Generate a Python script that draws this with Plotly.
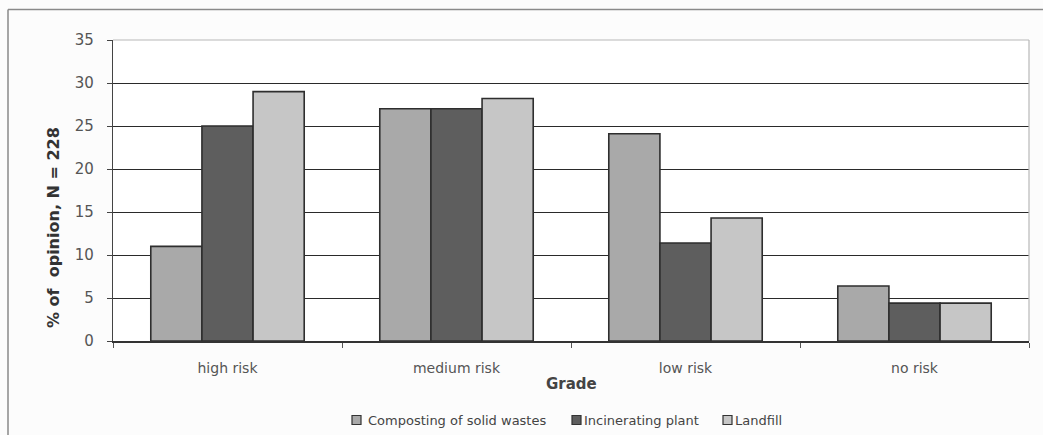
import plotly.graph_objects as go

# Survey data: perceived risk grade of three waste-treatment facilities
grades = ["high risk", "medium risk", "low risk", "no risk"]
composting = [11.0, 27.0, 24.1, 6.4]
incinerating = [25.0, 27.0, 11.4, 4.4]
landfill = [29.0, 28.2, 14.3, 4.4]

series_names = ["Composting of solid wastes", "Incinerating plant", "Landfill"]
y_ticks = [0, 5, 10, 15, 20, 25, 30, 35]

fills = ["#a9a9a9", "#5e5e5e", "#c6c6c6"]
edge = "#2e2e2e"
font_family = "DejaVu Sans, Liberation Sans, Arial, sans-serif"

W, H = 1043, 435
M_L, M_R, M_T, M_B = 113, 14, 40, 94
plot_w = W - M_L - M_R
plot_h = H - M_T - M_B


def px_to_paper_x(px):
    return (px - M_L) / plot_w


def px_to_paper_y(py):
    return (H - M_B - py) / plot_h


fig = go.Figure()
for name, vals, col in zip(series_names, [composting, incinerating, landfill], fills):
    fig.add_trace(go.Bar(
        x=grades, y=vals, name=name,
        marker=dict(color=col, line=dict(color=edge, width=1.6)),
    ))

# Legend drawn below the axis title: small bordered squares plus labels
legend_marker_x = [352, 572, 723]
legend_text_x = [366, 582, 733]
shapes = []
annotations = []
for name, col, mx, tx in zip(series_names, fills, legend_marker_x, legend_text_x):
    shapes.append(dict(
        type="rect", xref="paper", yref="paper",
        x0=px_to_paper_x(mx), x1=px_to_paper_x(mx + 9),
        y0=px_to_paper_y(424.5), y1=px_to_paper_y(415.5),
        fillcolor=col, line=dict(color="#333333", width=1.2),
    ))
    annotations.append(dict(
        text=name, xref="paper", yref="paper",
        x=px_to_paper_x(tx), y=px_to_paper_y(420),
        xanchor="left", yanchor="middle", showarrow=False,
        font=dict(family=font_family, size=13, color="#444444"),
    ))

# axis titles
annotations.append(dict(
    text="<b>Grade</b>", xref="paper", yref="paper",
    x=px_to_paper_x(571), y=px_to_paper_y(384),
    xanchor="center", yanchor="middle", showarrow=False,
    font=dict(family=font_family, size=15, color="#444444"),
))
annotations.append(dict(
    text="<b>% of  opinion, N = 228</b>", xref="paper", yref="paper",
    x=px_to_paper_x(53), y=px_to_paper_y(228), textangle=-90,
    xanchor="center", yanchor="middle", showarrow=False,
    font=dict(family=font_family, size=16, color="#333333"),
))

shapes += [
    # light border along the top and right of the plotting area
    dict(type="line", xref="paper", yref="paper", x0=0, x1=1, y0=1, y1=1,
         line=dict(color="#b8b8b8", width=1.2), layer="above"),
    dict(type="line", xref="paper", yref="paper", x0=1, x1=1, y0=0, y1=1,
         line=dict(color="#b8b8b8", width=1.2), layer="above"),
    # outer chart frame (top and left edges)
    dict(type="line", xref="paper", yref="paper",
         x0=px_to_paper_x(8), x1=px_to_paper_x(1045), y0=px_to_paper_y(9.5), y1=px_to_paper_y(9.5),
         line=dict(color="#8a8a8a", width=1.5)),
    dict(type="line", xref="paper", yref="paper",
         x0=px_to_paper_x(8), x1=px_to_paper_x(8), y0=px_to_paper_y(9.5), y1=px_to_paper_y(440),
         line=dict(color="#8a8a8a", width=1.5)),
]

fig.update_layout(
    width=W, height=H,
    margin=dict(l=M_L, r=M_R, t=M_T, b=M_B),
    paper_bgcolor="#fcfcfc",
    plot_bgcolor="#ffffff",
    barmode="group",
    bargap=0.33,
    bargroupgap=0,
    font=dict(family=font_family, color="#555555", size=14),
    showlegend=False,
    xaxis=dict(
        type="category",
        showline=True, linecolor="#333333", linewidth=1.5,
        ticks="outside", tickson="boundaries", ticklen=5, tickcolor="#555555",
        tickfont=dict(size=14, color="#555555"),
        ticklabelstandoff=13,
        automargin=False,
    ),
    yaxis=dict(
        range=[0, 35], tickvals=y_ticks,
        showgrid=True, gridcolor="#2a2a2a", gridwidth=1,
        showline=True, linecolor="#444444", linewidth=1.2,
        ticks="outside", ticklen=5, tickcolor="#444444",
        tickfont=dict(size=15, color="#555555"),
        ticklabelstandoff=10,
        zeroline=False,
        automargin=False,
    ),
    shapes=shapes,
    annotations=annotations,
)

fig.write_html("out.html")
